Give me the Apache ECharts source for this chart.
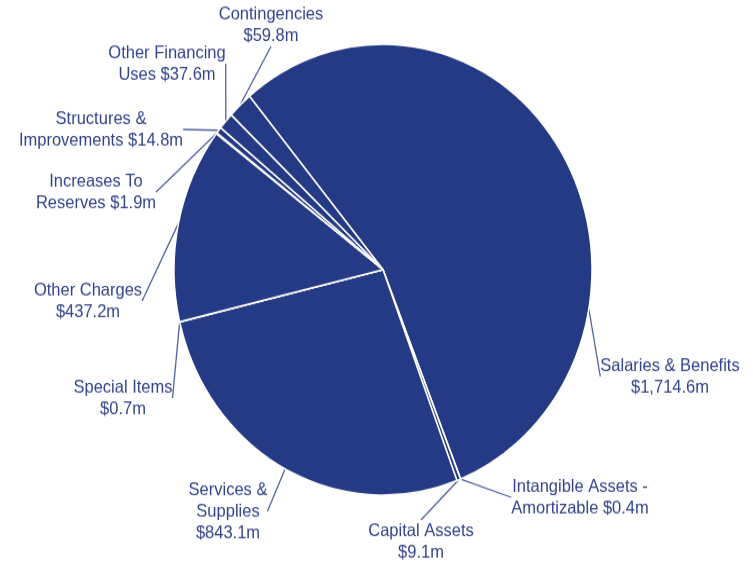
<!DOCTYPE html>
<html><head><meta charset="utf-8">
<script src="https://cdn.jsdelivr.net/npm/echarts@6/dist/echarts.min.js"></script>
<style>
html,body{margin:0;padding:0;background:#fff;overflow:hidden}
#wrap{width:753px;height:562px;overflow:hidden}
#chart{width:753px;height:521px;transform:scaleY(1.0787);transform-origin:0 0}
</style>
</head><body><div id="wrap"><div id="chart"></div></div>
<script>
// Data (clockwise order starting from the top-left boundary)
const categories = ['Salaries & Benefits','Intangible Assets - Amortizable','Capital Assets','Services & Supplies','Special Items','Other Charges','Increases To Reserves','Structures & Improvements','Other Financing Uses','Contingencies'];
const values = [1714.6, 0.4, 9.1, 843.1, 0.7, 437.2, 1.9, 14.8, 37.6, 59.8];
const labelNames = ['Salaries & Benefits\n','Intangible Assets -\nAmortizable ','Capital Assets\n','Services &\nSupplies\n','Special Items\n','Other Charges\n','Increases To\nReserves ','Structures &\nImprovements ','Other Financing\nUses ','Contingencies\n'];

function fmt(v){ return '$' + v.toLocaleString('en-US',{minimumFractionDigits:1, maximumFractionDigits:1}) + 'm'; }

// label placement (layout, not data)
const labelSpots = [[670,349],[580,461],[421,502],[228,474],[123,369],[88,279],[96,178],[101,120],[167,59],[271,23]];

const chart = echarts.init(document.getElementById('chart'), null, {renderer:'canvas'});
chart.setOption({
  animation:false,
  backgroundColor:'#ffffff',
  series:[{
    type:'pie',
    center:[383,250],
    radius:209,
    startAngle:129.7,
    clockwise:true,
    avoidLabelOverlap:false,
    minShowLabelAngle:0,
    data: categories.map((c,i)=>({name:c, value:values[i]})),
    itemStyle:{color:'#253a85', borderColor:'#ffffff', borderWidth:1.5},
    emphasis:{disabled:true},
    label:{
      show:true,
      position:'outside',
      formatter:(p)=>labelNames[p.dataIndex] + fmt(p.value),
      color:'#34448c',
      fontFamily:'"Liberation Sans", Arial, sans-serif',
      fontSize:16.5,
      lineHeight:20,
      align:'center'
    },
    labelLine:{show:true, length:10, length2:0, lineStyle:{color:'#5261a0', width:1.3}},
    labelLayout:(params)=>{
      const p = labelSpots[params.dataIndex];
      return {x:p[0], y:p[1], align:'center', verticalAlign:'middle'};
    }
  }]
});
</script>
</body></html>
